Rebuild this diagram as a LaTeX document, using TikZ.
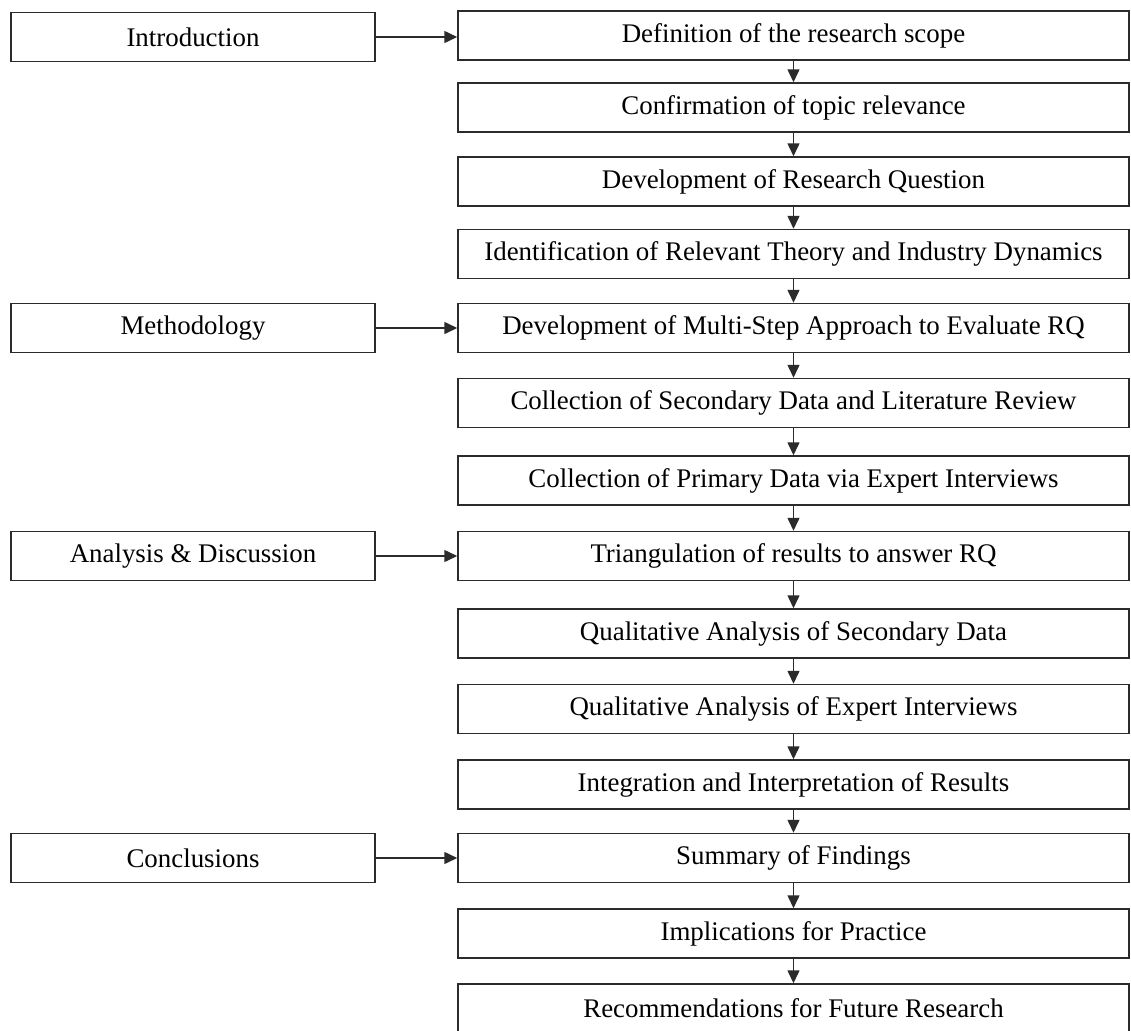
\documentclass[tikz,border=0pt]{standalone}
\usepackage{fontspec}
\setmainfont{Liberation Serif}
\usetikzlibrary{arrows.meta,positioning}
\usepackage{xcolor}
\definecolor{dark}{HTML}{2B2B2B}
\tikzset{
  box/.style={draw=dark, line width=0.85pt, align=center, fill=white, minimum height=9.8mm, inner sep=0pt, font=\fontsize{15.3}{18}\selectfont},
  leftbox/.style={box, minimum width=7.28cm},
  stepbox/.style={box, minimum width=13.42cm},
  arrow/.style={-{Triangle[length=2.6mm, width=2.4mm]}, line width=0.85pt, draw=dark}
}
\begin{document}
\begin{tikzpicture}
  \useasboundingbox (0,0) rectangle (22.62,-20.6);
  % chapters
  \node[leftbox] (intro) at (3.86,-0.74) {Introduction};
  \node[leftbox] (method) at (3.86,-6.56) {Methodology};
  \node[leftbox] (analysis) at (3.86,-11.12) {Analysis \& Discussion};
  \node[leftbox] (concl) at (3.86,-17.16) {Conclusions};
  % steps
  \node[stepbox] (scope) at (15.87,-0.71) {Definition of the research scope};
  \node[stepbox] (relevance) at (15.87,-2.15) {Confirmation of topic relevance};
  \node[stepbox] (rq) at (15.87,-3.63) {Development of Research Question};
  \node[stepbox] (theory) at (15.87,-5.08) {Identification of Relevant Theory and Industry Dynamics};
  \node[stepbox] (approach) at (15.87,-6.56) {Development of Multi-Step Approach to Evaluate RQ};
  \node[stepbox] (secdata) at (15.87,-8.06) {Collection of Secondary Data and Literature Review};
  \node[stepbox] (primdata) at (15.87,-9.61) {Collection of Primary Data via Expert Interviews};
  \node[stepbox] (triang) at (15.87,-11.12) {Triangulation of results to answer RQ};
  \node[stepbox] (qualsec) at (15.87,-12.67) {Qualitative Analysis of Secondary Data};
  \node[stepbox] (qualexp) at (15.87,-14.18) {Qualitative Analysis of Expert Interviews};
  \node[stepbox] (integr) at (15.87,-15.69) {Integration and Interpretation of Results};
  \node[stepbox] (summary) at (15.87,-17.16) {Summary of Findings};
  \node[stepbox] (implic) at (15.87,-18.67) {Implications for Practice};
  \node[stepbox] (recomm) at (15.87,-20.17) {Recommendations for Future Research};
  % links
  \draw[arrow] (intro) -- (intro -| scope.west);
  \draw[arrow] (method) -- (approach);
  \draw[arrow] (analysis) -- (triang);
  \draw[arrow] (concl) -- (summary);
  \foreach \a/\b in {scope/relevance, relevance/rq, rq/theory, theory/approach, approach/secdata, secdata/primdata, primdata/triang, triang/qualsec, qualsec/qualexp, qualexp/integr, integr/summary, summary/implic, implic/recomm}
    \draw[arrow] (\a) -- (\b);
\end{tikzpicture}
\end{document}
